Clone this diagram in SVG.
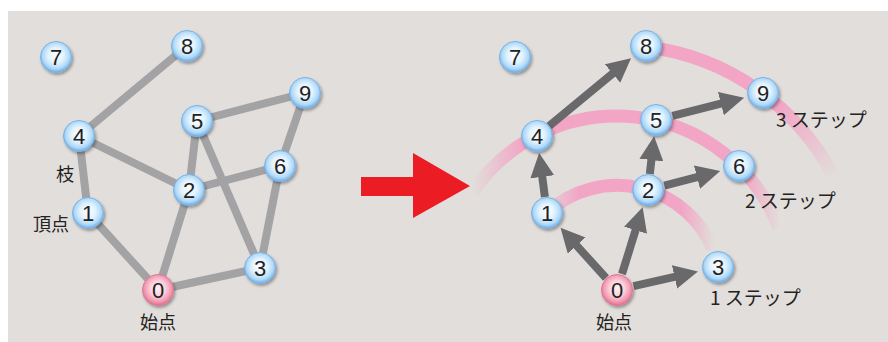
<svg xmlns="http://www.w3.org/2000/svg" width="888" height="342" viewBox="0 0 888 342">
<defs>
<radialGradient id="gb" cx="50%" cy="45%" r="55%">
<stop offset="0" stop-color="#ffffff"/><stop offset="0.45" stop-color="#e2f3fe"/><stop offset="0.78" stop-color="#b0d9f7"/><stop offset="1" stop-color="#6aaae6"/>
</radialGradient>
<radialGradient id="gp" cx="50%" cy="45%" r="55%">
<stop offset="0" stop-color="#fff2f5"/><stop offset="0.45" stop-color="#fbd0dc"/><stop offset="0.8" stop-color="#f196b0"/><stop offset="1" stop-color="#dd6a8c"/>
</radialGradient>
<filter id="sh" x="-30%" y="-30%" width="170%" height="170%">
<feDropShadow dx="1.5" dy="2" stdDeviation="1.5" flood-color="#000" flood-opacity="0.35"/>
</filter>
<linearGradient id="a1" gradientUnits="userSpaceOnUse" x1="550" y1="0" x2="714" y2="0">
<stop offset="0" stop-color="#f2a5c5" stop-opacity="0.3"/><stop offset="0.18" stop-color="#f2a5c5" stop-opacity="1"/><stop offset="0.8" stop-color="#f2a5c5" stop-opacity="1"/><stop offset="1" stop-color="#f2a5c5" stop-opacity="0"/>
</linearGradient>
<linearGradient id="a2" gradientUnits="userSpaceOnUse" x1="472" y1="0" x2="780" y2="0">
<stop offset="0" stop-color="#f2a5c5" stop-opacity="0"/><stop offset="0.17" stop-color="#f2a5c5" stop-opacity="1"/><stop offset="0.88" stop-color="#f2a5c5" stop-opacity="1"/><stop offset="1" stop-color="#f2a5c5" stop-opacity="0"/>
</linearGradient>
<linearGradient id="a3" gradientUnits="userSpaceOnUse" x1="780" y1="105" x2="835" y2="178">
<stop offset="0" stop-color="#f2a5c5" stop-opacity="1"/><stop offset="1" stop-color="#f2a5c5" stop-opacity="0"/>
</linearGradient>
<marker id="ah" markerUnits="userSpaceOnUse" markerWidth="24" markerHeight="24" viewBox="0 0 24 24" refX="9" refY="12" orient="auto">
<path d="M0,0 L24,12 L0,24 z" fill="#69696b"/>
</marker>
<style>
.e{stroke:#a3a3a5;stroke-width:8;fill:none}
.ar{stroke:#69696b;stroke-width:8;fill:none;marker-end:url(#ah)}
.arc{fill:none;stroke-width:13}
.nb{fill:url(#gb);stroke:#78b4ea;stroke-width:1;filter:url(#sh)}
.np{fill:url(#gp);stroke:#e07a98;stroke-width:1;filter:url(#sh)}
.t{font-family:"Liberation Sans","Noto Sans",sans-serif;font-size:22px;fill:#222;text-anchor:middle}
.j{font-family:"Noto Sans CJK JP","Noto Sans",sans-serif;font-size:18px;fill:#222}
.s{font-size:19px}
</style>
</defs>
<rect x="8" y="11" width="880" height="331" fill="#e2dedb"/>

<g id="connectors">
<g id="left-edges">
<line class="e" x1="187" y1="46" x2="79" y2="136"/>
<line class="e" x1="79" y1="136" x2="88" y2="213"/>
<line class="e" x1="79" y1="136" x2="189" y2="190"/>
<line class="e" x1="88" y1="213" x2="158" y2="290"/>
<line class="e" x1="158" y1="290" x2="189" y2="190"/>
<line class="e" x1="189" y1="190" x2="197" y2="121"/>
<line class="e" x1="189" y1="190" x2="280" y2="166"/>
<line class="e" x1="197" y1="121" x2="305" y2="93"/>
<line class="e" x1="305" y1="93" x2="280" y2="166"/>
<line class="e" x1="280" y1="166" x2="260" y2="268"/>
<line class="e" x1="197" y1="121" x2="260" y2="268"/>
<line class="e" x1="158" y1="290" x2="260" y2="268"/>
</g>
<g id="step-arcs">
<path class="arc" stroke="url(#a1)" d="M550,210 A104,104 0 0 1 713,249"/>
<path class="arc" stroke="url(#a2)" d="M472,193 A174,174 0 0 1 779,228"/>
<path class="arc" stroke="url(#a3)" d="M647,47 A245,245 0 0 1 833,175"/>
</g>
<g id="right-arrows">
<line class="ar" x1="606" y1="278" x2="570.6" y2="238.9"/>
<line class="ar" x1="622" y1="274" x2="638.2" y2="221.6"/>
<line class="ar" x1="633.6" y1="286.2" x2="683.3" y2="274.9"/>
<line class="ar" x1="544.9" y1="197" x2="541.1" y2="167.9"/>
<line class="ar" x1="549.3" y1="125.8" x2="619.5" y2="67.8"/>
<line class="ar" x1="649.8" y1="174" x2="652.4" y2="151.1"/>
<line class="ar" x1="664.4" y1="185.7" x2="705.7" y2="174.8"/>
<line class="ar" x1="672.5" y1="115.8" x2="729.6" y2="101.4"/>
</g>
<path id="big-arrow" d="M361,177 H413 V153 L470,186 L413,218 V196 H361 z" fill="#ec1c24"/>
</g>

<g id="L7"><circle class="nb" cx="56" cy="57" r="15.5"/><text class="t" x="56" y="65">7</text></g>
<g id="L8"><circle class="nb" cx="187" cy="46" r="15.5"/><text class="t" x="187" y="54">8</text></g>
<g id="L4"><circle class="nb" cx="79" cy="136" r="15.5"/><text class="t" x="79" y="144">4</text></g>
<g id="L5"><circle class="nb" cx="197" cy="121" r="15.5"/><text class="t" x="197" y="129">5</text></g>
<g id="L9"><circle class="nb" cx="305" cy="93" r="15.5"/><text class="t" x="305" y="101">9</text></g>
<g id="L6"><circle class="nb" cx="280" cy="166" r="15.5"/><text class="t" x="280" y="174">6</text></g>
<g id="L2"><circle class="nb" cx="189" cy="190" r="15.5"/><text class="t" x="189" y="198">2</text></g>
<g id="L1"><circle class="nb" cx="88" cy="213" r="15.5"/><text class="t" x="88" y="221">1</text></g>
<g id="L3"><circle class="nb" cx="260" cy="268" r="15.5"/><text class="t" x="260" y="276">3</text></g>
<g id="L0"><circle class="np" cx="158" cy="290" r="15.5"/><text class="t" x="158" y="298">0</text></g>
<g id="L-labels">
<text class="j" x="65" y="181" text-anchor="middle">枝</text>
<text class="j" x="51" y="231" text-anchor="middle">頂点</text>
<text class="j" x="158" y="329" text-anchor="middle">始点</text>
</g>

<g id="R7"><circle class="nb" cx="515" cy="57" r="15.5"/><text class="t" x="515" y="65">7</text></g>
<g id="R8"><circle class="nb" cx="646" cy="46" r="15.5"/><text class="t" x="646" y="54">8</text></g>
<g id="R4"><circle class="nb" cx="537" cy="136" r="15.5"/><text class="t" x="537" y="144">4</text></g>
<g id="R5"><circle class="nb" cx="656" cy="120" r="15.5"/><text class="t" x="656" y="128">5</text></g>
<g id="R9"><circle class="nb" cx="763" cy="93" r="15.5"/><text class="t" x="763" y="101">9</text></g>
<g id="R6"><circle class="nb" cx="739" cy="166" r="15.5"/><text class="t" x="739" y="174">6</text></g>
<g id="R2"><circle class="nb" cx="648" cy="190" r="15.5"/><text class="t" x="648" y="198">2</text></g>
<g id="R1"><circle class="nb" cx="547" cy="213" r="15.5"/><text class="t" x="547" y="221">1</text></g>
<g id="R3"><circle class="nb" cx="718" cy="267" r="15.5"/><text class="t" x="718" y="275">3</text></g>
<g id="R0"><circle class="np" cx="617" cy="290" r="15.5"/><text class="t" x="617" y="298">0</text></g>
<g id="R-labels">
<text class="j s" x="776" y="127">3 ステップ</text>
<text class="j s" x="745" y="208">2 ステップ</text>
<text class="j s" x="710" y="305">1 ステップ</text>
<text class="j" x="614" y="329" text-anchor="middle">始点</text>
</g>
</svg>
